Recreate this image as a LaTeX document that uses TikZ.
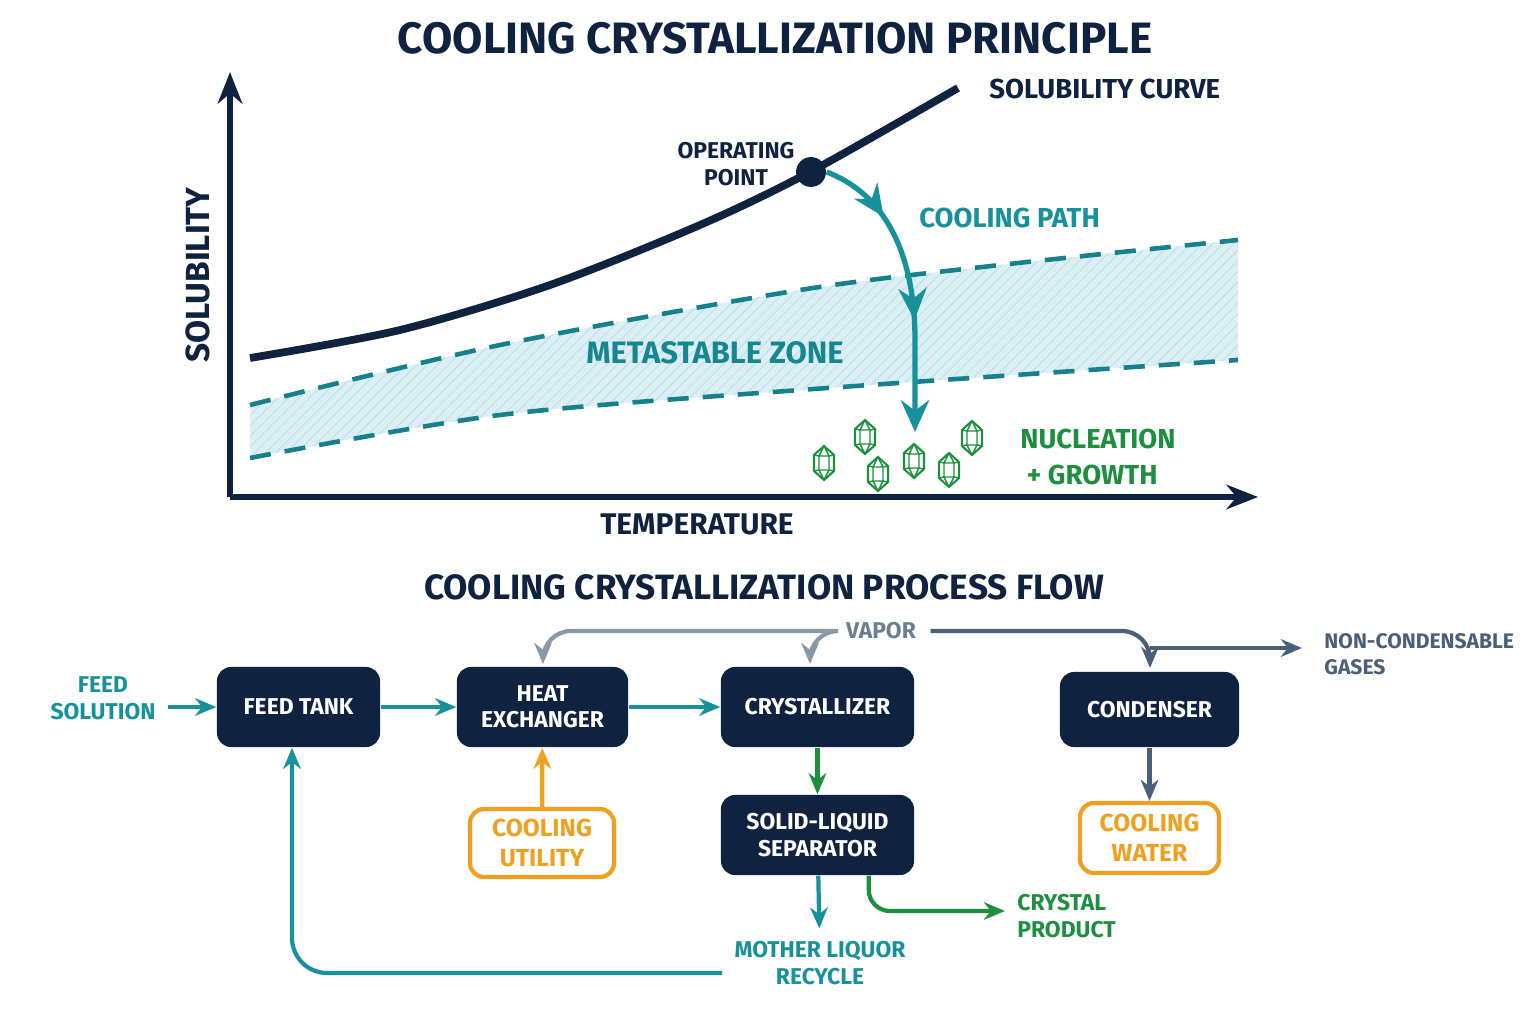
\documentclass[tikz,border=0pt]{standalone}
\usepackage{fontspec}
\setmainfont{Fira Sans}
\usetikzlibrary{arrows.meta,decorations.markings,patterns}
\definecolor{navy}{HTML}{0F2340}
\definecolor{teal}{HTML}{17929A}
\definecolor{grn}{HTML}{1E8F3E}
\definecolor{org}{HTML}{F0A020}
\definecolor{gry}{HTML}{6B7F93}
\definecolor{slate}{HTML}{4A6078}
\definecolor{zone}{HTML}{DCEFF6}
\tikzset{
 box/.style={fill=navy,rounded corners=4pt,text=white,font=\bfseries\fontsize{6.5}{7.5}\selectfont,align=center,inner sep=0},
 obox/.style={draw=org,line width=1.2pt,fill=white,rounded corners=4pt,text=org,font=\bfseries\fontsize{7}{8.5}\selectfont,align=center,inner sep=0},
 lbl/.style={font=\bfseries\fontsize{6.5}{7.8}\selectfont,align=center},
 ar/.style={-{Stealth[length=6pt,width=5pt]},line width=1.2pt},
 crys/.pic={\draw[grn,line width=0.6pt,fill=white] (0,-17)--(10,-8)--(10,8)--(0,17)--(-10,8)--(-10,-8)--cycle;
   \draw[grn,line width=0.4pt] (-5,-7) rectangle (5,7) (0,-17)--(-5,-7) (0,-17)--(5,-7) (0,17)--(-5,7) (0,17)--(5,7) (-10,-8)--(-5,-7) (10,-8)--(5,-7) (-10,8)--(-5,7) (10,8)--(5,7);}
}
\begin{document}
\begin{tikzpicture}[x=0.01cm,y=-0.01cm]
\useasboundingbox (0,0) rectangle (1536,1024);
\node[font=\bfseries\fontsize{12.5}{14}\selectfont,text=navy] (t1) at (775,38) {COOLING CRYSTALLIZATION PRINCIPLE};
% zone
\fill[zone] plot[smooth] coordinates {(250,405)(500,345)(800,290)(1000,265)(1238,240)} -- plot[smooth] coordinates {(1238,360)(800,390)(500,415)(250,458)} -- cycle;
\fill[pattern=north east lines,pattern color=teal!25] plot[smooth] coordinates {(250,405)(500,345)(800,290)(1000,265)(1238,240)} -- plot[smooth] coordinates {(1238,360)(800,390)(500,415)(250,458)} -- cycle;
\draw[teal!85!navy,line width=1.3pt,dash pattern=on 6pt off 4pt] plot[smooth] coordinates {(250,405)(500,345)(800,290)(1000,265)(1238,240)};
\draw[teal!85!navy,line width=1.3pt,dash pattern=on 6pt off 4pt] plot[smooth] coordinates {(250,458)(500,415)(800,390)(1238,360)};
% axes
\coordinate (o) at (230,497);
\coordinate (ytop) at (230,72);
\coordinate (xend) at (1258,497);
\draw[navy,line width=1.8pt,-{Stealth[length=9pt,width=7pt]}] (o)--(ytop);
\draw[navy,line width=1.8pt,-{Stealth[length=9pt,width=7pt]}] (o)--(xend);
\node[lbl,text=navy,font=\bfseries\fontsize{9.5}{11}\selectfont,rotate=90] (ylab) at (198,275) {SOLUBILITY};
\node[lbl,text=navy,font=\bfseries\fontsize{8.5}{10}\selectfont] (xlab) at (697,524) {TEMPERATURE};
% solubility
\draw[navy,line width=2.2pt] plot[smooth] coordinates {(250,358)(400,330)(550,285)(700,225)(810,172)(958,88)};
\node[lbl,text=navy,font=\bfseries\fontsize{7.8}{10}\selectfont,anchor=west] (sc) at (977,89) {SOLUBILITY CURVE};
\node[circle,fill=navy,minimum size=8.5pt,inner sep=0] (op) at (811,172) {};
\node[lbl,text=navy] (opl) at (736,164) {OPERATING\\POINT};
\coordinate (pe) at (915,432);
\draw[teal,line width=1.5pt,postaction={decorate},decoration={markings,mark=at position 0.25 with {\arrow{Stealth[length=9pt,width=8pt]}},mark=at position 0.62 with {\arrow{Stealth[length=9pt,width=8pt]}}},-{Stealth[length=9pt,width=8pt]}] (op.east) .. controls (900,200) and (915,280) .. (915,340) -- (pe);
\node[lbl,text=teal,font=\bfseries\fontsize{7.8}{10}\selectfont,anchor=west] (cp) at (907,218) {COOLING PATH};
\node[lbl,text=teal!90!navy,font=\bfseries\fontsize{8.8}{11}\selectfont] (mz) at (715,353) {METASTABLE ZONE};
\pic at (824,463) {crys}; \pic at (865,437) {crys}; \pic at (878,474) {crys};
\pic at (914,461) {crys}; \pic at (949,470) {crys}; \pic at (972,438) {crys};
\node[lbl,text=grn,font=\bfseries\fontsize{7.8}{10}\selectfont,anchor=west,align=left] (ng) at (1008,457) {NUCLEATION\\\ + GROWTH};
% process flow
\node[font=\bfseries\fontsize{10}{12}\selectfont,text=navy] (t2) at (764,587) {COOLING CRYSTALLIZATION PROCESS FLOW};
\node[box,minimum width=1.63cm,minimum height=0.8cm] (ft) at (298.5,707) {FEED TANK};
\node[box,minimum width=1.71cm,minimum height=0.8cm] (hx) at (542.5,707) {HEAT\\EXCHANGER};
\node[box,minimum width=1.93cm,minimum height=0.8cm] (cr) at (817.5,707) {CRYSTALLIZER};
\node[box,minimum width=1.79cm,minimum height=0.75cm] (cd) at (1149.5,709.5) {CONDENSER};
\node[box,minimum width=1.93cm,minimum height=0.8cm] (sp) at (817.5,835) {SOLID-LIQUID\\SEPARATOR};
\node[obox,minimum width=1.44cm,minimum height=0.68cm] (cu) at (542,843) {COOLING\\UTILITY};
\node[obox,minimum width=1.39cm,minimum height=0.7cm] (cw) at (1149.5,838) {COOLING\\WATER};
\node[lbl,text=teal] (fs) at (103,698) {FEED\\SOLUTION};
\node[lbl,text=grn,align=left,anchor=west] (cpr) at (1005,916) {CRYSTAL\\PRODUCT};
\node[lbl,text=teal] (ml) at (820,963) {MOTHER LIQUOR\\RECYCLE};
\node[lbl,text=slate,align=left,anchor=west,font=\bfseries\fontsize{6}{7.5}\selectfont] (nc) at (1312,654) {NON-CONDENSABLE\\GASES};
\node[lbl,text=gry,fill=white,inner xsep=4pt] (vp) at (881,631) {VAPOR};
\draw[ar,teal] (fs.east|-ft) -- (ft);
\draw[ar,teal] (ft) -- (hx);
\draw[ar,teal] (hx) -- (cr);
\draw[ar,org] (cu) -- (hx);
\draw[ar,grn] (cr) -- (sp);
\draw[ar,teal] (sp) -- (ml);
\draw[ar,grn,rounded corners=6pt] (sp.south east)++(-46,0) |- (cpr.west|-0,911);
\draw[ar,teal,rounded corners=10pt] (ml.west|-0,973) -| (ft.south-|292,0);
\draw[ar,slate] (cd) -- (cw);
\draw[ar,gry!80,rounded corners=8pt] (vp.west) -| (543,664);
\draw[ar,gry!80,rounded corners=8pt] (vp.west) -| (810,664);
\draw[ar,slate,rounded corners=8pt] (vp.east) -| (1150,668);
\draw[ar,slate] (1150,648) -- (1302,648);
\end{tikzpicture}
\end{document}
